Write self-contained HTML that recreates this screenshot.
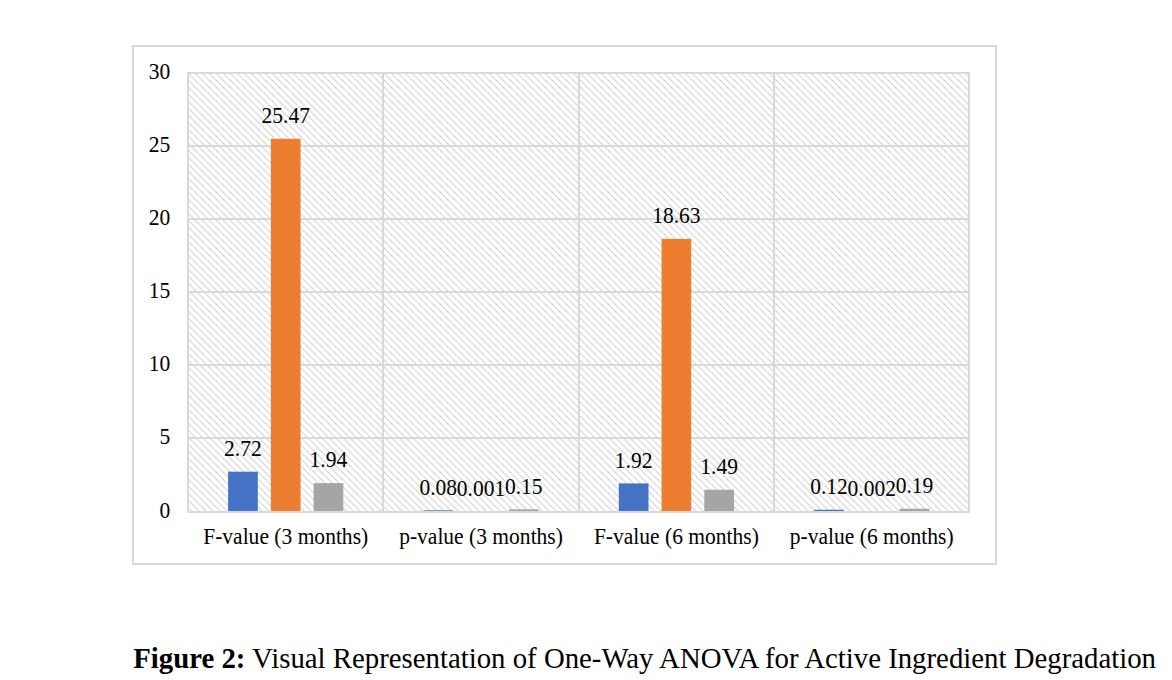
<!DOCTYPE html><html><head><meta charset="utf-8"><style>html,body{margin:0;padding:0;background:#fff;width:1172px;height:680px;overflow:hidden}svg{display:block}text{font-family:"Liberation Serif",serif;fill:#000}</style></head><body>
<svg width="1172" height="680" viewBox="0 0 1172 680">
<defs><pattern id="hp" patternUnits="userSpaceOnUse" width="7" height="7" x="188" y="73">
<rect x="0" y="0" width="1" height="1" fill="#cbcbcb"/><rect x="1" y="0" width="1" height="1" fill="#f3f3f3"/><rect x="0" y="1" width="1" height="1" fill="#f3f3f3"/><rect x="1" y="1" width="1" height="1" fill="#d9d9d9"/><rect x="2" y="1" width="1" height="1" fill="#f3f3f3"/><rect x="1" y="2" width="1" height="1" fill="#f3f3f3"/><rect x="2" y="2" width="1" height="1" fill="#d9d9d9"/><rect x="3" y="2" width="1" height="1" fill="#f3f3f3"/><rect x="2" y="3" width="1" height="1" fill="#f3f3f3"/><rect x="3" y="3" width="1" height="1" fill="#d9d9d9"/><rect x="4" y="3" width="1" height="1" fill="#f3f3f3"/><rect x="3" y="4" width="1" height="1" fill="#f3f3f3"/><rect x="4" y="4" width="1" height="1" fill="#d9d9d9"/><rect x="5" y="4" width="1" height="1" fill="#f3f3f3"/><rect x="4" y="5" width="1" height="1" fill="#f3f3f3"/><rect x="5" y="5" width="1" height="1" fill="#d9d9d9"/><rect x="6" y="5" width="1" height="1" fill="#f3f3f3"/><rect x="5" y="6" width="1" height="1" fill="#f3f3f3"/><rect x="6" y="6" width="1" height="1" fill="#d9d9d9"/><rect x="0" y="6" width="1" height="1" fill="#f3f3f3"/><rect x="6" y="0" width="1" height="1" fill="#f3f3f3"/>
</pattern></defs>
<rect x="133" y="46" width="863" height="518" fill="#fff" stroke="#d9d9d9" stroke-width="2"/>
<rect x="188" y="73" width="781" height="439" fill="url(#hp)"/>
<path d="M187,73 H970 M187,146 H970 M187,219 H970 M187,292 H970 M187,365 H970 M187,438 H970 M187,512 H970 M188,72 V513 M383,72 V513 M579,72 V513 M774,72 V513 M969,72 V513" stroke="#d9d9d9" stroke-width="2" fill="none"/>
<rect x="228.1" y="471.7" width="29.7" height="39.8" fill="#4472c4"/>
<rect x="270.85" y="138.77" width="29.7" height="372.73" fill="#ed7d31"/>
<rect x="313.6" y="483.11" width="29.7" height="28.39" fill="#a5a5a5"/>
<rect x="423.45" y="510.33" width="29.7" height="1.17" fill="#4472c4"/>
<rect x="466.2" y="511.49" width="29.7" height="0.01" fill="#ed7d31"/>
<rect x="508.95" y="509.3" width="29.7" height="2.2" fill="#a5a5a5"/>
<rect x="618.8" y="483.4" width="29.7" height="28.1" fill="#4472c4"/>
<rect x="661.55" y="238.87" width="29.7" height="272.63" fill="#ed7d31"/>
<rect x="704.3" y="489.7" width="29.7" height="21.8" fill="#a5a5a5"/>
<rect x="814.15" y="509.74" width="29.7" height="1.76" fill="#4472c4"/>
<rect x="856.9" y="511.47" width="29.7" height="0.03" fill="#ed7d31"/>
<rect x="899.65" y="508.72" width="29.7" height="2.78" fill="#a5a5a5"/>
<path d="M187,512 H970" stroke="#d9d9d9" stroke-width="2"/>
<text transform="translate(242.95 455.9) scale(0.99 1.06)" font-size="21.75" text-anchor="middle">2.72</text>
<text transform="translate(285.7 122.97) scale(0.99 1.06)" font-size="21.75" text-anchor="middle">25.47</text>
<text transform="translate(328.45 467.31) scale(0.99 1.06)" font-size="21.75" text-anchor="middle">1.94</text>
<text transform="translate(438.3 494.53) scale(0.99 1.06)" font-size="21.75" text-anchor="middle">0.08</text>
<text transform="translate(481.05 495.69) scale(0.99 1.06)" font-size="21.75" text-anchor="middle">0.001</text>
<text transform="translate(523.8 493.5) scale(0.99 1.06)" font-size="21.75" text-anchor="middle">0.15</text>
<text transform="translate(633.65 467.6) scale(0.99 1.06)" font-size="21.75" text-anchor="middle">1.92</text>
<text transform="translate(676.4 223.07) scale(0.99 1.06)" font-size="21.75" text-anchor="middle">18.63</text>
<text transform="translate(719.15 473.9) scale(0.99 1.06)" font-size="21.75" text-anchor="middle">1.49</text>
<text transform="translate(829 493.94) scale(0.99 1.06)" font-size="21.75" text-anchor="middle">0.12</text>
<text transform="translate(871.75 495.67) scale(0.99 1.06)" font-size="21.75" text-anchor="middle">0.002</text>
<text transform="translate(914.5 492.92) scale(0.99 1.06)" font-size="21.75" text-anchor="middle">0.19</text>
<text transform="translate(170.2 517.6) scale(0.99 1.06)" font-size="21.75" text-anchor="end">0</text>
<text transform="translate(170.2 444.43) scale(0.99 1.06)" font-size="21.75" text-anchor="end">5</text>
<text transform="translate(170.2 371.26) scale(0.99 1.06)" font-size="21.75" text-anchor="end">10</text>
<text transform="translate(170.2 298.09) scale(0.99 1.06)" font-size="21.75" text-anchor="end">15</text>
<text transform="translate(170.2 224.92) scale(0.99 1.06)" font-size="21.75" text-anchor="end">20</text>
<text transform="translate(170.2 151.75) scale(0.99 1.06)" font-size="21.75" text-anchor="end">25</text>
<text transform="translate(170.2 78.58) scale(0.99 1.06)" font-size="21.75" text-anchor="end">30</text>
<text transform="translate(285.68 544) scale(0.99 1.06)" font-size="21.75" text-anchor="middle">F-value (3 months)</text>
<text transform="translate(481.02 544) scale(0.99 1.06)" font-size="21.75" text-anchor="middle">p-value (3 months)</text>
<text transform="translate(676.38 544) scale(0.99 1.06)" font-size="21.75" text-anchor="middle">F-value (6 months)</text>
<text transform="translate(871.73 544) scale(0.99 1.06)" font-size="21.75" text-anchor="middle">p-value (6 months)</text>
<text x="133.2" y="668" font-size="28.8"><tspan font-weight="bold">Figure 2:</tspan> Visual Representation of One-Way ANOVA for Active Ingredient Degradation</text>
</svg></body></html>
